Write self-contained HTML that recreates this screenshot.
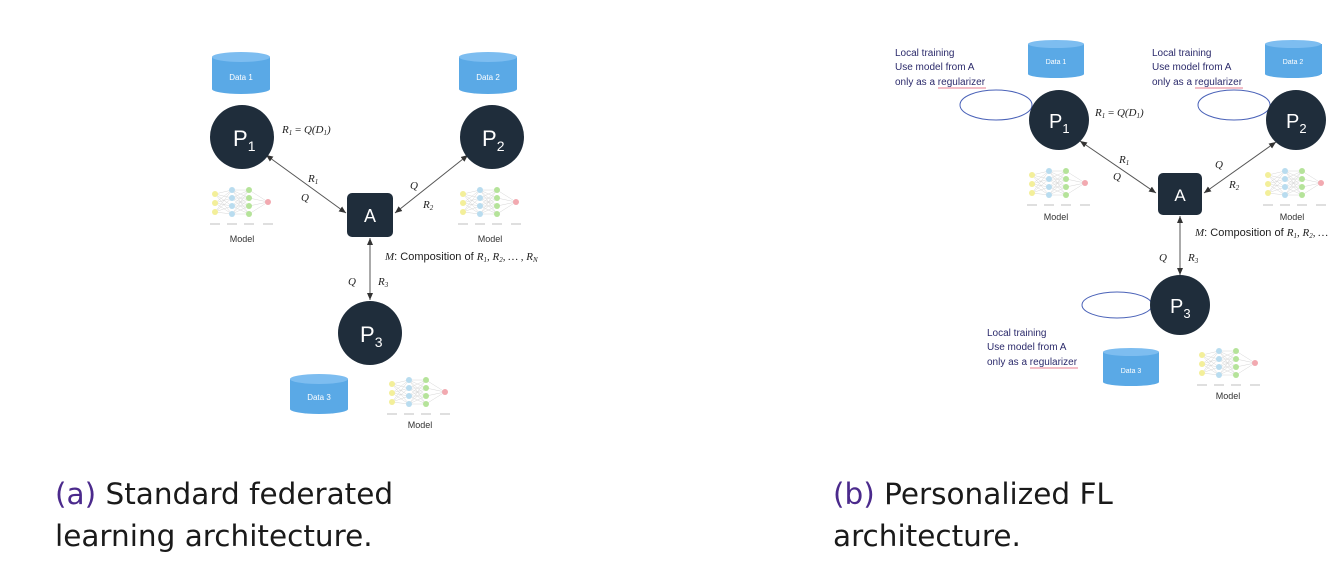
<!DOCTYPE html>
<html><head><meta charset="utf-8"><style>
html,body{margin:0;padding:0;background:#fff;}
svg{display:block;}
.cap{font-family:"DejaVu Sans","Liberation Sans",sans-serif;font-size:29.5px;fill:#1a1a1a;}
.lab{font-family:"Liberation Sans",sans-serif;fill:#fff;}
.m{font-family:"Liberation Serif",serif;font-style:italic;font-size:11px;fill:#222;}
.t{font-family:"Liberation Sans",sans-serif;font-size:9px;fill:#333;}
.lt{font-family:"Liberation Sans",sans-serif;font-size:10px;fill:#2b2a6b;}
</style></head><body>
<svg width="1344" height="568" viewBox="0 0 1344 568" xmlns="http://www.w3.org/2000/svg">
<defs>
<marker id="ah" markerWidth="8" markerHeight="8" refX="7" refY="4" orient="auto-start-reverse" markerUnits="userSpaceOnUse">
<path d="M0,1 L7,4 L0,7 z" fill="#333"/></marker>
<g id="net">
<g stroke="#ccc" stroke-width="0.4">
<path d="M5,12 L22,8 M5,12 L22,16 M5,12 L22,24 M5,12 L22,32 M5,21 L22,8 M5,21 L22,16 M5,21 L22,24 M5,21 L22,32 M5,30 L22,8 M5,30 L22,16 M5,30 L22,24 M5,30 L22,32"/>
<path d="M22,8 L39,8 M22,8 L39,16 M22,8 L39,24 M22,8 L39,32 M22,16 L39,8 M22,16 L39,16 M22,16 L39,24 M22,16 L39,32 M22,24 L39,8 M22,24 L39,16 M22,24 L39,24 M22,24 L39,32 M22,32 L39,8 M22,32 L39,16 M22,32 L39,24 M22,32 L39,32"/>
<path d="M39,8 L58,20 M39,16 L58,20 M39,24 L58,20 M39,32 L58,20"/>
</g>
<g fill="#f3ef9a"><circle cx="5" cy="12" r="3"/><circle cx="5" cy="21" r="3"/><circle cx="5" cy="30" r="3"/></g>
<g fill="#b9dcef"><circle cx="22" cy="8" r="3"/><circle cx="22" cy="16" r="3"/><circle cx="22" cy="24" r="3"/><circle cx="22" cy="32" r="3"/></g>
<g fill="#b5e39a"><circle cx="39" cy="8" r="3"/><circle cx="39" cy="16" r="3"/><circle cx="39" cy="24" r="3"/><circle cx="39" cy="32" r="3"/></g>
<circle cx="58" cy="20" r="3" fill="#f2a9b0"/>
<g stroke="#aaa" stroke-width="0.8"><path d="M0,42 H10 M17,42 H27 M34,42 H44 M53,42 H63"/></g>
</g>
</defs>

<!-- LEFT DIAGRAM -->
<g>
<rect x="212" y="57" width="58" height="32" fill="#5aa9e6"/>
<ellipse cx="241" cy="89" rx="29" ry="5" fill="#5aa9e6"/>
<ellipse cx="241" cy="57" rx="29" ry="5" fill="#7dbdf0"/>
<text x="241" y="80" class="lab" font-size="8" text-anchor="middle">Data 1</text>

<rect x="459" y="57" width="58" height="32" fill="#5aa9e6"/>
<ellipse cx="488" cy="89" rx="29" ry="5" fill="#5aa9e6"/>
<ellipse cx="488" cy="57" rx="29" ry="5" fill="#7dbdf0"/>
<text x="488" y="80" class="lab" font-size="8" text-anchor="middle">Data 2</text>

<rect x="290" y="379" width="58" height="30" fill="#5aa9e6"/>
<ellipse cx="319" cy="409" rx="29" ry="5" fill="#5aa9e6"/>
<ellipse cx="319" cy="379" rx="29" ry="5" fill="#7dbdf0"/>
<text x="319" y="400" class="lab" font-size="8" text-anchor="middle">Data 3</text>

<line x1="266" y1="155" x2="346" y2="213" stroke="#555" stroke-width="1" marker-start="url(#ah)" marker-end="url(#ah)"/>
<line x1="468" y1="155" x2="395" y2="213" stroke="#555" stroke-width="1" marker-start="url(#ah)" marker-end="url(#ah)"/>
<line x1="370" y1="238" x2="370" y2="300" stroke="#555" stroke-width="1" marker-start="url(#ah)" marker-end="url(#ah)"/>

<circle cx="242" cy="137" r="32" fill="#1f2d3b"/>
<text x="233" y="146" class="lab" font-size="22">P<tspan font-size="14" dy="5">1</tspan></text>
<circle cx="492" cy="137" r="32" fill="#1f2d3b"/>
<text x="482" y="146" class="lab" font-size="22">P<tspan font-size="14" dy="5">2</tspan></text>
<circle cx="370" cy="333" r="32" fill="#1f2d3b"/>
<text x="360" y="342" class="lab" font-size="22">P<tspan font-size="14" dy="5">3</tspan></text>
<rect x="347" y="193" width="46" height="44" rx="5" fill="#1f2d3b"/>
<text x="370" y="222" class="lab" font-size="18" text-anchor="middle">A</text>

<use href="#net" x="210" y="182"/>
<use href="#net" x="458" y="182"/>
<use href="#net" x="387" y="372"/>
<text x="242" y="242" class="t" text-anchor="middle">Model</text>
<text x="490" y="242" class="t" text-anchor="middle">Model</text>
<text x="420" y="428" class="t" text-anchor="middle">Model</text>

<text x="282" y="133" class="m">R<tspan font-size="7" dy="2">1</tspan><tspan dy="-2" font-style="normal"> = </tspan>Q(D<tspan font-size="7" dy="2">1</tspan><tspan dy="-2">)</tspan></text>
<text x="308" y="182" class="m">R<tspan font-size="7" dy="2">1</tspan></text>
<text x="301" y="201" class="m">Q</text>
<text x="410" y="189" class="m">Q</text>
<text x="423" y="208" class="m">R<tspan font-size="7" dy="2">2</tspan></text>
<text x="385" y="260" class="m">M<tspan font-style="normal" font-family="Liberation Sans">: Composition of </tspan>R<tspan font-size="7" dy="2">1</tspan><tspan dy="-2">, R</tspan><tspan font-size="7" dy="2">2</tspan><tspan dy="-2">, … , R</tspan><tspan font-size="7" dy="2">N</tspan></text>
<text x="348" y="285" class="m">Q</text>
<text x="378" y="285" class="m">R<tspan font-size="7" dy="2">3</tspan></text>
</g>

<!-- RIGHT DIAGRAM -->
<g>
<rect x="1028" y="44" width="56" height="30" fill="#5aa9e6"/>
<ellipse cx="1056" cy="74" rx="28" ry="4" fill="#5aa9e6"/>
<ellipse cx="1056" cy="44" rx="28" ry="4" fill="#7dbdf0"/>
<text x="1056" y="64" class="lab" font-size="7" text-anchor="middle">Data 1</text>

<rect x="1265" y="44" width="57" height="30" fill="#5aa9e6"/>
<ellipse cx="1293" cy="74" rx="28" ry="4" fill="#5aa9e6"/>
<ellipse cx="1293" cy="44" rx="28" ry="4" fill="#7dbdf0"/>
<text x="1293" y="64" class="lab" font-size="7" text-anchor="middle">Data 2</text>

<rect x="1103" y="352" width="56" height="30" fill="#5aa9e6"/>
<ellipse cx="1131" cy="382" rx="28" ry="4" fill="#5aa9e6"/>
<ellipse cx="1131" cy="352" rx="28" ry="4" fill="#7dbdf0"/>
<text x="1131" y="373" class="lab" font-size="7" text-anchor="middle">Data 3</text>

<ellipse cx="996" cy="105" rx="36" ry="15" fill="none" stroke="#4a62b8" stroke-width="1"/>
<ellipse cx="1234" cy="105" rx="36" ry="15" fill="none" stroke="#4a62b8" stroke-width="1"/>
<ellipse cx="1117" cy="305" rx="35" ry="13" fill="none" stroke="#4a62b8" stroke-width="1"/>

<line x1="1080" y1="141" x2="1156" y2="193" stroke="#555" stroke-width="1" marker-start="url(#ah)" marker-end="url(#ah)"/>
<line x1="1276" y1="142" x2="1204" y2="193" stroke="#555" stroke-width="1" marker-start="url(#ah)" marker-end="url(#ah)"/>
<line x1="1180" y1="216" x2="1180" y2="275" stroke="#555" stroke-width="1" marker-start="url(#ah)" marker-end="url(#ah)"/>

<circle cx="1059" cy="120" r="30" fill="#1f2d3b"/>
<text x="1049" y="128" class="lab" font-size="20">P<tspan font-size="13" dy="5">1</tspan></text>
<circle cx="1296" cy="120" r="30" fill="#1f2d3b"/>
<text x="1286" y="128" class="lab" font-size="20">P<tspan font-size="13" dy="5">2</tspan></text>
<circle cx="1180" cy="305" r="30" fill="#1f2d3b"/>
<text x="1170" y="313" class="lab" font-size="20">P<tspan font-size="13" dy="5">3</tspan></text>
<rect x="1158" y="173" width="44" height="42" rx="5" fill="#1f2d3b"/>
<text x="1180" y="201" class="lab" font-size="17" text-anchor="middle">A</text>

<use href="#net" x="1027" y="163"/>
<use href="#net" x="1263" y="163"/>
<use href="#net" x="1197" y="343"/>
<text x="1056" y="220" class="t" font-size="8" text-anchor="middle">Model</text>
<text x="1292" y="220" class="t" font-size="8" text-anchor="middle">Model</text>
<text x="1228" y="399" class="t" font-size="8" text-anchor="middle">Model</text>

<text x="1095" y="116" class="m" font-size="10">R<tspan font-size="7" dy="2">1</tspan><tspan dy="-2" font-style="normal"> = </tspan>Q(D<tspan font-size="7" dy="2">1</tspan><tspan dy="-2">)</tspan></text>
<text x="1119" y="163" class="m" font-size="10">R<tspan font-size="7" dy="2">1</tspan></text>
<text x="1113" y="180" class="m" font-size="10">Q</text>
<text x="1215" y="168" class="m" font-size="10">Q</text>
<text x="1229" y="188" class="m" font-size="10">R<tspan font-size="7" dy="2">2</tspan></text>
<text x="1195" y="236" class="m" font-size="10">M<tspan font-style="normal" font-family="Liberation Sans">: Composition of </tspan>R<tspan font-size="7" dy="2">1</tspan><tspan dy="-2">, R</tspan><tspan font-size="7" dy="2">2</tspan><tspan dy="-2">, …</tspan></text>
<text x="1159" y="261" class="m" font-size="10">Q</text>
<text x="1188" y="261" class="m" font-size="10">R<tspan font-size="7" dy="2">3</tspan></text>

<text x="895" y="56" class="lt">Local training</text>
<text x="895" y="70" class="lt">Use model from A</text>
<text x="895" y="85" class="lt">only as a regularizer</text>
<text x="1152" y="56" class="lt">Local training</text>
<text x="1152" y="70" class="lt">Use model from A</text>
<text x="1152" y="85" class="lt">only as a regularizer</text>
<text x="987" y="336" class="lt">Local training</text>
<text x="987" y="350" class="lt">Use model from A</text>
<text x="987" y="365" class="lt">only as a regularizer</text>
<g stroke="#e0506a" stroke-width="0.8">
<line x1="938" y1="88" x2="986" y2="88"/>
<line x1="1195" y1="88" x2="1243" y2="88"/>
<line x1="1030" y1="368" x2="1078" y2="368"/>
</g>
</g>

<!-- CAPTIONS -->
<text x="55" y="504" class="cap"><tspan fill="#4b2a8c">(a)</tspan> Standard federated</text>
<text x="55" y="546" class="cap">learning architecture.</text>
<text x="833" y="504" class="cap"><tspan fill="#4b2a8c">(b)</tspan> Personalized FL</text>
<text x="833" y="546" class="cap">architecture.</text>
</svg>
</body></html>
